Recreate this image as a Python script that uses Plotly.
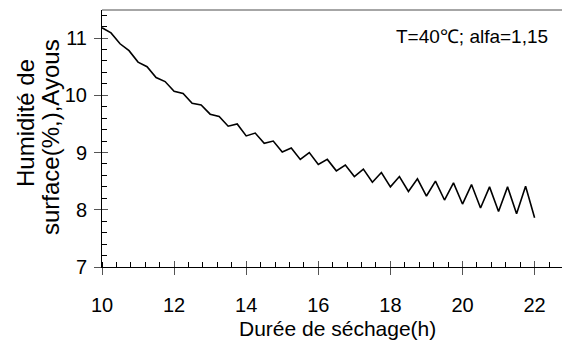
import plotly.graph_objects as go

hours = [10 + 0.25 * i for i in range(49)]
humidity = [11.18, 11.09, 10.90, 10.78, 10.58, 10.50, 10.31, 10.24, 10.07, 10.03,
            9.86, 9.83, 9.67, 9.63, 9.46, 9.50, 9.29, 9.34, 9.16, 9.20,
            9.01, 9.08, 8.88, 9.00, 8.79, 8.88, 8.68, 8.78, 8.58, 8.71,
            8.48, 8.65, 8.40, 8.58, 8.32, 8.54, 8.24, 8.50, 8.17, 8.47,
            8.10, 8.44, 8.03, 8.40, 7.97, 8.40, 7.93, 8.41, 7.86]
x_ticks = [10, 12, 14, 16, 18, 20, 22]
y_ticks = [7, 8, 9, 10, 11]
x_title = "Durée de séchage(h)"
y_title_lines = ["Humidité de", "surface(%,),Ayous"]
note = "T=40℃; alfa=1,15"

FONT = "Arial, Liberation Sans, sans-serif"
xr = [10, 22.76]
yr = [7, 11.49]

fig = go.Figure()
fig.add_trace(go.Scatter(x=hours, y=humidity, mode="lines",
                         line=dict(color="black", width=1.6), showlegend=False))
# invisible trace for overlay axes
fig.add_trace(go.Scatter(x=[hours[0]], y=[humidity[0]], xaxis="x2", yaxis="y2",
                         mode="markers", marker=dict(opacity=0), showlegend=False,
                         hoverinfo="skip"))

common = dict(showgrid=False, zeroline=False)
fig.update_layout(
    width=562, height=340,
    margin=dict(l=102, r=0, t=10, b=73),
    plot_bgcolor="white", paper_bgcolor="white",
    font=dict(family=FONT, color="black"),
    xaxis=dict(range=xr, showline=True, linecolor="black", linewidth=1,
               tickmode="array", tickvals=x_ticks, ticktext=[str(v) for v in x_ticks],
               ticks="outside", ticklen=7, tickcolor="#555", tickwidth=1,
               minor=dict(ticks="inside", ticklen=5, dtick=0.4, tick0=10, tickcolor="black"),
               tickfont=dict(size=20, family=FONT), ticklabelstandoff=13, **common),
    yaxis=dict(range=yr, showline=True, linecolor="black", linewidth=1,
               tickmode="array", tickvals=y_ticks, ticktext=[str(v) for v in y_ticks],
               ticks="outside", ticklen=7, tickcolor="#555", tickwidth=1,
               minor=dict(ticks="inside", ticklen=5, dtick=0.2, tick0=7, tickcolor="black"),
               tickfont=dict(size=20, family=FONT), ticklabelstandoff=3, **common),
    xaxis2=dict(range=xr, overlaying="x", anchor="y2", side="bottom",
                tickmode="array", tickvals=x_ticks, ticks="inside", ticklen=6,
                tickcolor="#555", showticklabels=False, showline=False, **common),
    yaxis2=dict(range=yr, overlaying="y", anchor="x2", side="left",
                tickmode="array", tickvals=y_ticks, ticks="inside", ticklen=6,
                tickcolor="#555", showticklabels=False, showline=False, **common),
)

fig.add_shape(type="line", xref="paper", yref="paper", x0=0, x1=1, y0=1, y1=1,
              line=dict(color="#888888", width=1.5))

fig.add_annotation(text=note, xref="paper", yref="paper", x=(472 - 102) / 460,
                   y=(267 - 37) / 257, showarrow=False, xanchor="center", yanchor="middle",
                   font=dict(size=19, family=FONT))
fig.add_annotation(text=x_title, xref="paper", yref="paper", x=(337 - 102) / 460,
                   y=(267 - 328) / 257, showarrow=False, xanchor="center", yanchor="middle",
                   font=dict(size=21, family=FONT))
for line_text, px, py in zip(y_title_lines, [25, 50], [123, 137]):
    fig.add_annotation(text=line_text, xref="paper", yref="paper", x=(px - 102) / 460,
                       y=(267 - py) / 257, showarrow=False, xanchor="center",
                       yanchor="middle", textangle=-90, font=dict(size=24, family=FONT))

fig.write_html("out.html")
